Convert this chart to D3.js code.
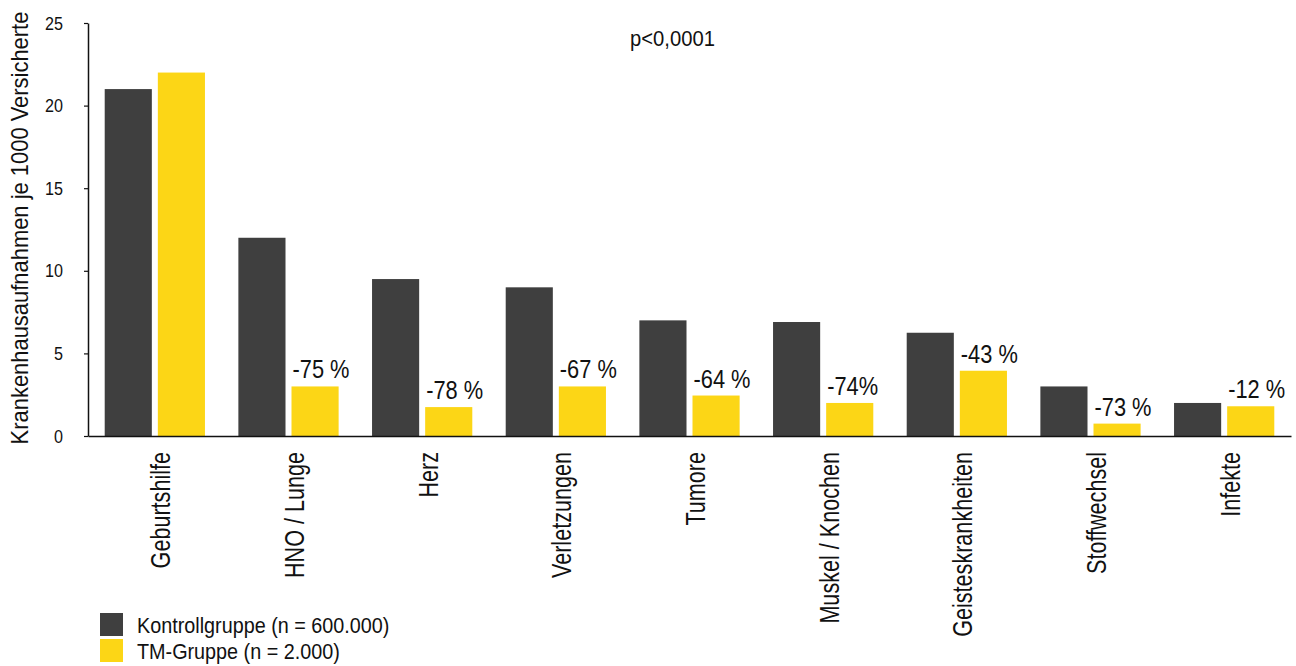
<!DOCTYPE html>
<html>
<head>
<meta charset="utf-8">
<script src="https://cdn.jsdelivr.net/npm/d3@7"></script>
<style>
  body { margin: 0; background: #fff; }
  svg { display: block; font-family: "Liberation Sans", Arial, sans-serif; }
  text { fill: #111; }
</style>
</head>
<body>
<svg id="chart" width="1296" height="666"></svg>
<script>
// Chart data
const categories = ["Geburtshilfe", "HNO / Lunge", "Herz", "Verletzungen", "Tumore",
  "Muskel / Knochen", "Geisteskrankheiten", "Stoffwechsel", "Infekte"];
const kontrollValues = [21, 12, 9.5, 9, 7, 6.9, 6.25, 3, 2];
const tmValues = [22, 3, 1.75, 3, 2.45, 2, 3.95, 0.75, 1.8];
const changeLabels = ["", "-75 %", "-78 %", "-67 %", "-64 %", "-74%", "-43 %", "-73 %", "-12 %"];
const yTicks = [0, 5, 10, 15, 20, 25];
const seriesNames = ["Kontrollgruppe (n = 600.000)", "TM-Gruppe (n = 2.000)"];
const seriesColors = ["#3f3f3f", "#fcd616"];

const yTitle = "Krankenhausaufnahmen je 1000 Versicherte";
const pValue = "p<0,0001";

// Layout
const plot = { left: 88, right: 1291, top: 23, bottom: 436 };

const svg = d3.select("#chart");

const x = d3.scaleBand()
  .domain(categories)
  .range([plot.left, plot.right])
  .paddingInner(0.25)
  .paddingOuter(0.125);

const xSub = d3.scaleBand()
  .domain([0, 1])
  .range([0, x.bandwidth()])
  .paddingInner(0.113);

const y = d3.scaleLinear()
  .domain([0, 25])
  .range([plot.bottom, plot.top]);

const rows = categories.map((c, i) => ({
  category: c,
  values: [kontrollValues[i], tmValues[i]],
  label: changeLabels[i]
}));

// Bars
const groups = svg.append("g")
  .selectAll("g")
  .data(rows)
  .join("g")
  .attr("transform", (d) => `translate(${x(d.category)},0)`);

groups.selectAll("rect")
  .data((d) => d.values.map((v, k) => ({ v, k })))
  .join("rect")
  .attr("x", (d) => xSub(d.k))
  .attr("y", (d) => y(d.v))
  .attr("width", xSub.bandwidth())
  .attr("height", (d) => y(0) - y(d.v))
  .attr("fill", (d) => seriesColors[d.k]);

// Percentage change labels above the TM bars
groups.filter((d) => d.label)
  .append("text")
  .attr("transform", (d) => `translate(${xSub(1) + 1},${y(d.values[1]) - 8}) scale(0.84,1)`)
  .attr("font-size", 26)
  .text((d) => d.label);

// Y axis
const yAxis = svg.append("g")
  .attr("transform", `translate(${plot.left},0)`)
  .call(d3.axisLeft(y).tickValues(yTicks).tickSize(4).tickSizeOuter(0));
yAxis.select(".domain").attr("stroke", "#111").attr("stroke-width", 1.5);
yAxis.selectAll(".tick line").attr("stroke", "#111").attr("stroke-width", 1.2);
yAxis.selectAll(".tick text")
  .attr("font-size", 19)
  .attr("font-family", null)
  .attr("fill", "#222")
  .attr("x", -25 / 0.85)
  .attr("transform", "scale(0.85,1)");

// X axis with rotated category labels
const xAxis = svg.append("g")
  .attr("transform", `translate(0,${plot.bottom})`)
  .call(d3.axisBottom(x).tickSize(0).tickSizeOuter(0));
xAxis.select(".domain").attr("stroke", "#111").attr("stroke-width", 1.5);
xAxis.selectAll(".tick text")
  .attr("font-size", 27)
  .attr("font-family", null)
  .attr("fill", "#111")
  .attr("text-anchor", "end")
  .attr("x", 0)
  .attr("y", 0)
  .attr("dy", "0.42em")
  .attr("transform", "translate(4,16) rotate(-90) scale(0.8,1)");

// Y axis title
svg.append("text")
  .attr("transform", "translate(28,228) rotate(-90) scale(0.914,1)")
  .attr("text-anchor", "middle")
  .attr("font-size", 24)
  .text(yTitle);

// Significance note
svg.append("text")
  .attr("transform", "translate(630,46) scale(0.92,1)")
  .attr("font-size", 22)
  .text(pValue);

// Legend
const legend = svg.append("g")
  .attr("transform", "translate(100,613)")
  .selectAll("g")
  .data(seriesNames)
  .join("g")
  .attr("transform", (d, i) => `translate(0,${i * 26})`);

legend.append("rect")
  .attr("width", 23)
  .attr("height", 23)
  .attr("fill", (d, i) => seriesColors[i]);

legend.append("text")
  .attr("transform", "translate(37,12) scale(0.9,1)")
  .attr("dy", "0.35em")
  .attr("font-size", 22)
  .text((d) => d);
</script>
</body>
</html>
